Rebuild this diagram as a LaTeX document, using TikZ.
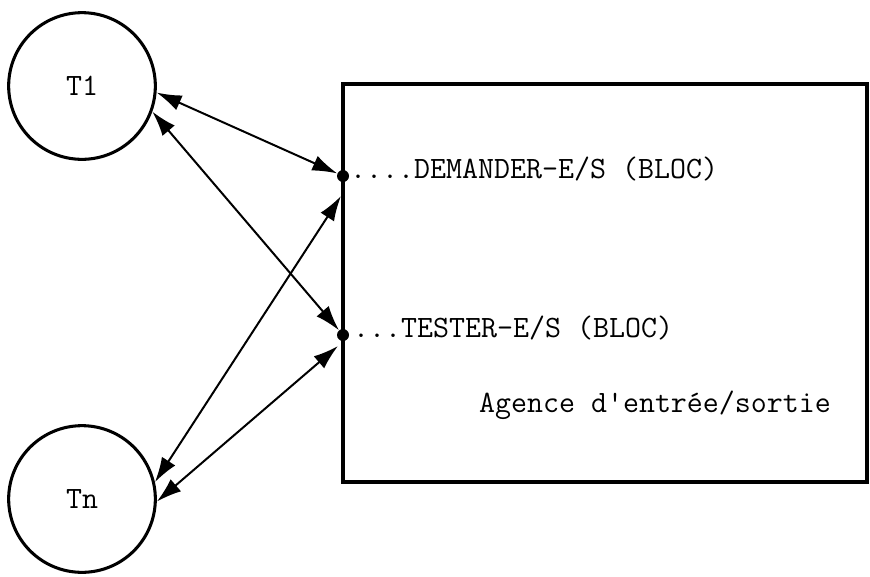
\documentclass[tikz,border=0pt]{standalone}
\usepackage{tikz}
\usetikzlibrary{arrows.meta}

\begin{document}
\begin{tikzpicture}[x=0.03cm, y=-0.03cm, font=\ttfamily\fontsize{26.5}{32}\selectfont,
        tache/.style={circle, draw, line width=2.6pt, minimum size=4.4cm, inner sep=0pt},
        point/.style={circle, fill, inner sep=0pt, minimum size=0.36cm},
        fleche/.style={{Latex[length=7.5mm, width=4.8mm]}-{Latex[length=7.5mm, width=4.8mm]}, line width=1.7pt}]
    \useasboundingbox (0,0) rectangle (870,576);
    % taches
    \node[tache] (T1) at (82,86) {T1};
    \node[tache] (Tn) at (82,499) {Tn};
    % agence
    \node[draw, line width=3.4pt, minimum width=15.72cm, minimum height=11.94cm, inner sep=0pt] (agence) at (605,283) {};
    \node[point] (D) at (343,176) {};
    \node[point] (T) at (343,335) {};
    \coordinate (dbas) at (341,196);
    \coordinate (tbas) at (338,346);
    \node[anchor=mid west, inner sep=0pt] (demander) at (350,176) {....DEMANDER-E/S (BLOC)};
    \node[anchor=mid west, inner sep=0pt] (tester) at (353,335) {...TESTER-E/S (BLOC)};
    \node[inner sep=0pt] (nom) at (655,405) {Agence d'entr\'ee/sortie};
    % appels
    \draw[fleche] (T1.-5) -- (D);
    \draw[fleche] (T1.-20) -- (T);
    \draw[fleche] (Tn.13) -- (dbas);
    \draw[fleche] (Tn.-2) -- (tbas);
\end{tikzpicture}
\end{document}
